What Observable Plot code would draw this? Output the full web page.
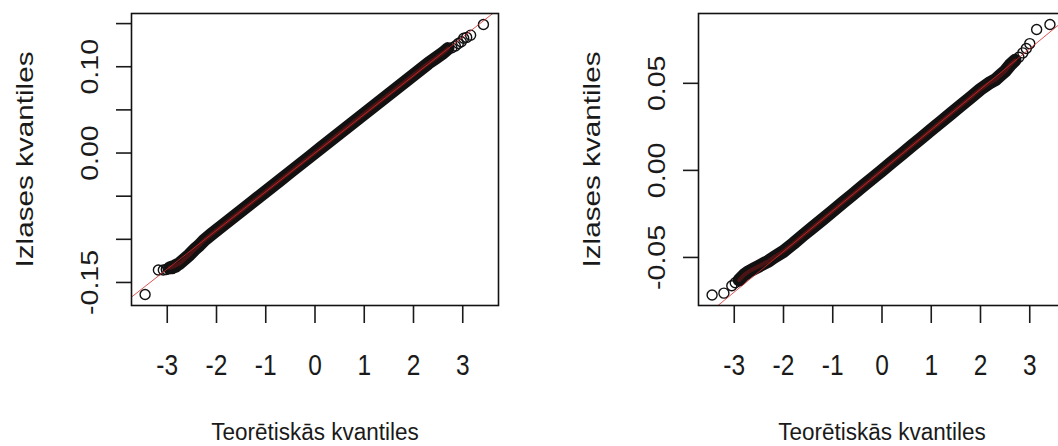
<!DOCTYPE html>
<html><head><meta charset="utf-8">
<script src="https://cdn.jsdelivr.net/npm/d3@7"></script>
<script src="https://cdn.jsdelivr.net/npm/@observablehq/plot@0.6"></script>
<style>
html,body{margin:0;padding:0;background:#fff;overflow:hidden;width:1058px;height:446px}
#wrap{position:relative;width:1058px;height:446px;overflow:hidden;background:#fff}
.panel{position:absolute;top:0}
.panel svg{max-width:none !important}
</style></head><body><div id="wrap"><div class="panel" id="p1" style="left:0;width:529px"></div><div class="panel" id="p2" style="left:529px;width:568px"></div></div>
<script>
// shared text and ticks
const xTitle = "Teorētiskās kvantiles";
const yTitle = "Izlases kvantiles";
const xTicks = [-3, -2, -1, 0, 1, 2, 3];
const xLabels = ["-3", "-2", "-1", "0", "1", "2", "3"];
const xDomain = [-3.726, 3.726];

// left panel
const leftYDomain = [-0.1767, 0.1617];
const leftYTicks = [-0.15, -0.10, -0.05, 0, 0.05, 0.10, 0.15];
const leftYLabels = ["-0.15", "", "", "0.00", "", "0.10", ""];
const leftBandQ = [-2.95,-2.85,-2.75,-2.65,-2.55,-2.45,-2.35,-2.25,-2.1,-1.9,-1.7,-1.5,-1.3,-1.1,-0.9,-0.7,-0.5,-0.3,-0.1,0.1,0.3,0.5,0.7,0.9,1.1,1.3,1.5,1.7,1.9,2.1,2.3,2.45,2.6,2.7];
const leftBandS = [-0.133,-0.131,-0.128,-0.123,-0.118,-0.112,-0.107,-0.101,-0.094,-0.085,-0.076,-0.067,-0.058,-0.049,-0.040,-0.031,-0.022,-0.013,-0.004,0.005,0.014,0.023,0.032,0.041,0.050,0.059,0.068,0.077,0.086,0.095,0.104,0.110,0.116,0.121];
const leftTailQ = [-3.45,-3.18,-3.08,-3.02,-2.97,-2.9,-2.82, 2.78,2.85,2.91,2.97,3.02,3.08,3.16,3.42];
const leftTailS = [-0.164,-0.1355,-0.1355,-0.135,-0.134,-0.134,-0.132, 0.122,0.124,0.127,0.129,0.133,0.134,0.1366,0.149];
const leftQQLine = [0.0, 0.0448]; // intercept, slope

// right panel
const rightYDomain = [-0.0776, 0.0901];
const rightYTicks = [-0.05, 0, 0.05];
const rightYLabels = ["-0.05", "0.00", "0.05"];
const rightBandQ = [-2.9,-2.8,-2.7,-2.6,-2.5,-2.4,-2.3,-2.2,-2.0,-1.8,-1.6,-1.4,-1.2,-1.0,-0.8,-0.6,-0.4,-0.2,0,0.2,0.4,0.6,0.8,1.0,1.2,1.4,1.6,1.8,2.0,2.2,2.3,2.4,2.5,2.6,2.7];
const rightBandS = [-0.063,-0.060,-0.058,-0.0565,-0.055,-0.0535,-0.052,-0.050,-0.0465,-0.042,-0.0372,-0.0326,-0.028,-0.0233,-0.0186,-0.014,-0.0093,-0.0047,0.0,0.0047,0.0093,0.014,0.0186,0.0233,0.028,0.0326,0.0373,0.0419,0.0466,0.0505,0.052,0.0545,0.057,0.0605,0.0632];
const rightTailQ = [-3.45,-3.21,-3.05,-2.98, 2.78,2.86,2.93,3.0,3.14,3.41];
const rightTailS = [-0.0716,-0.0705,-0.0663,-0.0645, 0.0650,0.0675,0.0700,0.0728,0.0809,0.0838];
const rightQQLine = [0.0, 0.0233];

const FONT = "'Liberation Sans', Arial, Helvetica, sans-serif";
const INK = "#1a1a1a";

function panel({width, marginLeft, yDomain, yTicks, yLabels, bandQ, bandS, tailQ, tailS, qq}) {
  const band = bandQ.map((q, i) => ({q, s: bandS[i]}));
  const tail = tailQ.map((q, i) => ({q, s: tailS[i]}));
  const qline = xDomain.map(q => ({q, s: qq[0] + qq[1] * q}));
  const boxW = 367;
  return Plot.plot({
    width, height: 446,
    marginLeft, marginRight: width - marginLeft - boxW, marginTop: 13, marginBottom: 141,
    x: {domain: xDomain},
    y: {domain: yDomain},
    style: {fontFamily: FONT, background: "white", overflow: "visible", maxWidth: "none"},
    marks: [
      Plot.axisX({ticks: xTicks, tickSize: 18, tickPadding: 32, tickFormat: d => xLabels[xTicks.indexOf(d)],
        fontSize: 24.5, label: null, color: INK, strokeWidth: 1.6}),
      Plot.axisY({ticks: yTicks, tickSize: 15, tickPadding: 19, tickRotate: -90,
        tickFormat: d => yLabels[yTicks.indexOf(d)], fontSize: 24, label: null, color: INK, strokeWidth: 1.6}),
      Plot.dot(tail, {x: "q", y: "s", r: 5, stroke: "#111", strokeWidth: 1.4, fill: "none"}),
      Plot.line(band, {x: "q", y: "s", stroke: "#111", strokeWidth: 13, strokeLinecap: "round", strokeLinejoin: "round"}),
      Plot.line(band, {x: "q", y: "s", stroke: "#4a1414", strokeWidth: 4, strokeLinecap: "round"}),
      Plot.line(qline, {x: "q", y: "s", stroke: "#d42a2a", strokeWidth: 1, strokeOpacity: 0.8, clip: true}),
      Plot.frame({stroke: "#111", strokeWidth: 1.6}),
      Plot.text([xTitle], {text: d => d, frameAnchor: "bottom", textAnchor: "middle", lineAnchor: "middle",
        dy: 127, fontSize: 22.5, fill: INK}),
      Plot.text([yTitle], {text: d => d, frameAnchor: "left", textAnchor: "middle", lineAnchor: "middle",
        rotate: -90, dx: -106, fontSize: 23, fill: INK})
    ]
  });
}

function vStretch(el, k) {
  const b = el.getBBox();
  const m = el.getCTM();
  const cx = b.x + b.width / 2, cy = b.y + b.height / 2;
  const rotated = Math.abs(m.a) < 0.5;
  const sx = rotated ? k : 1, sy = rotated ? 1 : k;
  const t = el.getAttribute("transform") || "";
  el.setAttribute("transform", `${t} translate(${cx},${cy}) scale(${sx},${sy}) translate(${-cx},${-cy})`);
}

function postProcess(svg) {
  svg.querySelectorAll('g[aria-label="x-axis tick label"] text, g[aria-label="y-axis tick label"] text')
    .forEach(t => { if (t.textContent) vStretch(t, 1.19); });
  svg.querySelectorAll('g[aria-label="text"] text').forEach(t => {
    const rotated = Math.abs(t.getCTM().a) < 0.5;
    vStretch(t, rotated ? 1.29 : 1.1);
  });
}

const left = panel({width: 529, marginLeft: 131, yDomain: leftYDomain, yTicks: leftYTicks, yLabels: leftYLabels,
  bandQ: leftBandQ, bandS: leftBandS, tailQ: leftTailQ, tailS: leftTailS, qq: leftQQLine});
const right = panel({width: 568, marginLeft: 169, yDomain: rightYDomain, yTicks: rightYTicks, yLabels: rightYLabels,
  bandQ: rightBandQ, bandS: rightBandS, tailQ: rightTailQ, tailS: rightTailS, qq: rightQQLine});
document.getElementById("p1").appendChild(left);
document.getElementById("p2").appendChild(right);
postProcess(left);
postProcess(right);
</script>
</body></html>
